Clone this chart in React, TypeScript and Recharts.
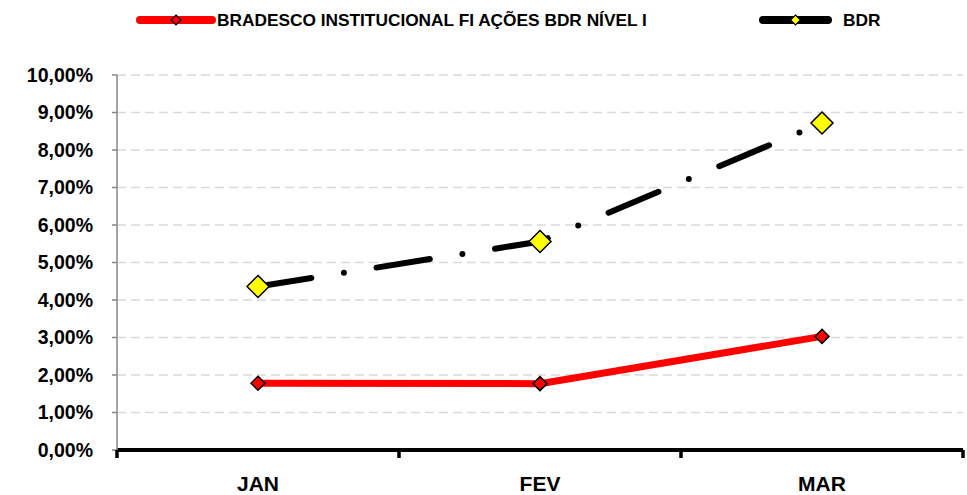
import React from "react";
import {
  LineChart,
  Line,
  XAxis,
  YAxis,
  CartesianGrid,
} from "recharts";

const categories = ["JAN", "FEV", "MAR"];
const bradescoValues = [1.78, 1.77, 3.03];
const bdrValues = [4.36, 5.56, 8.72];
const yTicks = [0, 1, 2, 3, 4, 5, 6, 7, 8, 9, 10];

const seriesNames = {
  bradesco: "BRADESCO INSTITUCIONAL FI AÇÕES BDR NÍVEL I",
  bdr: "BDR",
};

const data = categories.map((name, i) => ({
  name,
  bradesco: bradescoValues[i],
  bdr: bdrValues[i],
}));

const FONT = '"Liberation Sans", Arial, sans-serif';

const Diamond = (size: number, fill: string) => (props: any) => {
  const { cx, cy, index } = props;
  if (cx == null || cy == null) return <g key={index} />;
  const r = size / 2;
  return (
    <polygon
      key={index}
      points={`${cx},${cy - r} ${cx + r},${cy} ${cx},${cy + r} ${cx - r},${cy}`}
      fill={fill}
      stroke="#000"
      strokeWidth={1.5}
    />
  );
};

const XTick = (props: any) => {
  const { x, y, payload, index, width } = props;
  const half = payload?.offset || width / categories.length / 2;
  const isLast = index === categories.length - 1;
  return (
    <g>
      <line x1={x - half} y1={y} x2={x - half} y2={y + 8} stroke="#000" strokeWidth={3.5} />
      {isLast && (
        <line x1={x + half} y1={y} x2={x + half} y2={y + 8} stroke="#000" strokeWidth={3.5} />
      )}
      <text
        x={x}
        y={y + 41}
        textAnchor="middle"
        fontFamily={FONT}
        fontWeight="bold"
        fontSize={21}
        fill="#000"
      >
        {payload.value}
      </text>
    </g>
  );
};

const LegendItem = ({
  left,
  textLeft,
  lineWidth,
  color,
  marker,
  label,
}: {
  left: number;
  textLeft: number;
  lineWidth: number;
  color: string;
  marker: string;
  label: string;
}) => (
  <>
    <svg
      style={{ position: "absolute", left, top: 12 }}
      width={lineWidth + 8}
      height={16}
    >
      <line
        x1={4}
        y1={8}
        x2={lineWidth + 4}
        y2={8}
        stroke={color}
        strokeWidth={8}
        strokeLinecap="round"
      />
      <polygon
        points={`${lineWidth / 2 + 4},3 ${lineWidth / 2 + 9},8 ${lineWidth / 2 + 4},13 ${lineWidth / 2 - 1},8`}
        fill={marker}
        stroke="#000"
        strokeWidth={1.2}
      />
    </svg>
    <div
      style={{
        position: "absolute",
        left: textLeft,
        top: 9,
        fontFamily: FONT,
        fontWeight: "bold",
        fontSize: 17.3,
        lineHeight: "22px",
        whiteSpace: "nowrap",
        color: "#000",
      }}
    >
      {label}
    </div>
  </>
);

export default function App() {
  return (
    <div style={{ position: "relative", width: 967, height: 495, background: "#fff" }}>
      <style>{`body{margin:0}`}</style>
      <LegendItem
        left={136}
        textLeft={217}
        lineWidth={72}
        color="#ff0000"
        marker="#ff0000"
        label={seriesNames.bradesco}
      />
      <LegendItem
        left={759}
        textLeft={843}
        lineWidth={65}
        color="#000"
        marker="#ffff00"
        label={seriesNames.bdr}
      />
      <div style={{ position: "absolute", left: 0, top: 0 }}>
        <LineChart
          width={967}
          height={495}
          data={data}
          margin={{ top: 75, right: 4, bottom: 0, left: 0 }}
        >
          <CartesianGrid
            vertical={false}
            stroke="#d9d9d9"
            strokeWidth={1.5}
            strokeDasharray="9 5"
          />
          <XAxis
            dataKey="name"
            scale="band"
            height={45}
            axisLine={{ stroke: "#000", strokeWidth: 4 }}
            tickLine={false}
            tickSize={0}
            tickMargin={0}
            tick={<XTick />}
            interval={0}
          />
          <YAxis
            width={117}
            domain={[0, 10]}
            ticks={yTicks}
            interval={0}
            axisLine={{ stroke: "#868686", strokeWidth: 1.5 }}
            tickLine={{ stroke: "#868686", strokeWidth: 1.5 }}
            tickSize={5}
            tickMargin={19}
            tickFormatter={(v: number) => `${v.toFixed(2).replace(".", ",")}%`}
            tick={{ fontFamily: FONT, fontWeight: "bold", fontSize: 19.5, fill: "#000" }}
          />
          <Line
            dataKey="bradesco"
            name={seriesNames.bradesco}
            stroke="#ff0000"
            strokeWidth={7}
            dot={Diamond(14, "#ff0000")}
            activeDot={false}
            isAnimationActive={false}
          />
          <Line
            dataKey="bdr"
            name={seriesNames.bdr}
            stroke="#000"
            strokeWidth={6}
            strokeDasharray="54 33 0 33"
            strokeLinecap="round"
            dot={Diamond(22, "#ffff00")}
            activeDot={false}
            isAnimationActive={false}
          />
        </LineChart>
      </div>
    </div>
  );
}
